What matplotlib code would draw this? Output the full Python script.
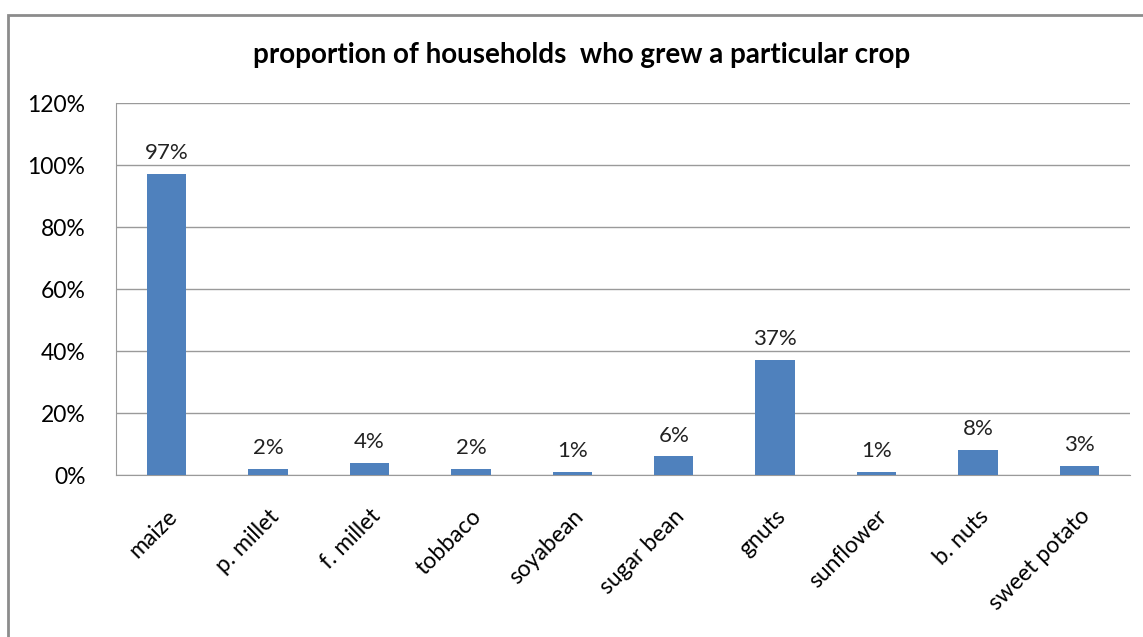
import matplotlib.pyplot as plt
from matplotlib.patches import Rectangle

crops = ['maize', 'p. millet', 'f. millet', 'tobbaco', 'soyabean', 'sugar bean',
         'gnuts', 'sunflower', 'b. nuts', 'sweet potato']
share = [97, 2, 4, 2, 1, 6, 37, 1, 8, 3]
yticks = [0, 20, 40, 60, 80, 100, 120]

plt.rcParams['font.family'] = ['Lato', 'DejaVu Sans']

W, H = 1143, 637
fig = plt.figure(figsize=(W / 100, H / 100), dpi=100)
ax = fig.add_axes([116 / W, 1 - 475 / H, (1130 - 116) / W, (475 - 103) / H])

# outer frame of the chart object (right and bottom edges cut off)
fig.patches.append(Rectangle((8 / W, -0.1), 1.2, 1 - 15 / H + 0.1, transform=fig.transFigure,
                             fill=False, edgecolor='#8c8c8c', linewidth=2))

x = range(len(crops))
bars = ax.bar(x, share, width=0.39, color='#4f81bd', zorder=3)
for xi, v in zip(x, share):
    ax.text(xi, v + 3.5, f'{v}%', ha='center', va='bottom', fontsize=16, color='#222222')

ax.set_xlim(-0.5, len(crops) - 0.5)
ax.set_ylim(0, 120)
ax.set_yticks(yticks)
ax.set_yticklabels([f'{t}%' for t in yticks], fontsize=16.5)
ax.yaxis.grid(True, color='#9a9a9a', linewidth=1, zorder=0)
ax.set_xticks(list(x))
ax.set_xticklabels(crops, rotation=45, ha='right', rotation_mode='anchor', fontsize=16.5)
ax.tick_params(length=0)
ax.tick_params(axis='y', pad=22)
ax.tick_params(axis='x', pad=22)
for s in ['top', 'right']:
    ax.spines[s].set_visible(False)
for s in ['left', 'bottom']:
    ax.spines[s].set_color('#9a9a9a')

fig.text(582 / W, 1 - 55 / H, 'proportion of households  who grew a particular crop',
         ha='center', va='center', fontsize=20, fontweight='bold')

fig.savefig('out.png', dpi=100)
